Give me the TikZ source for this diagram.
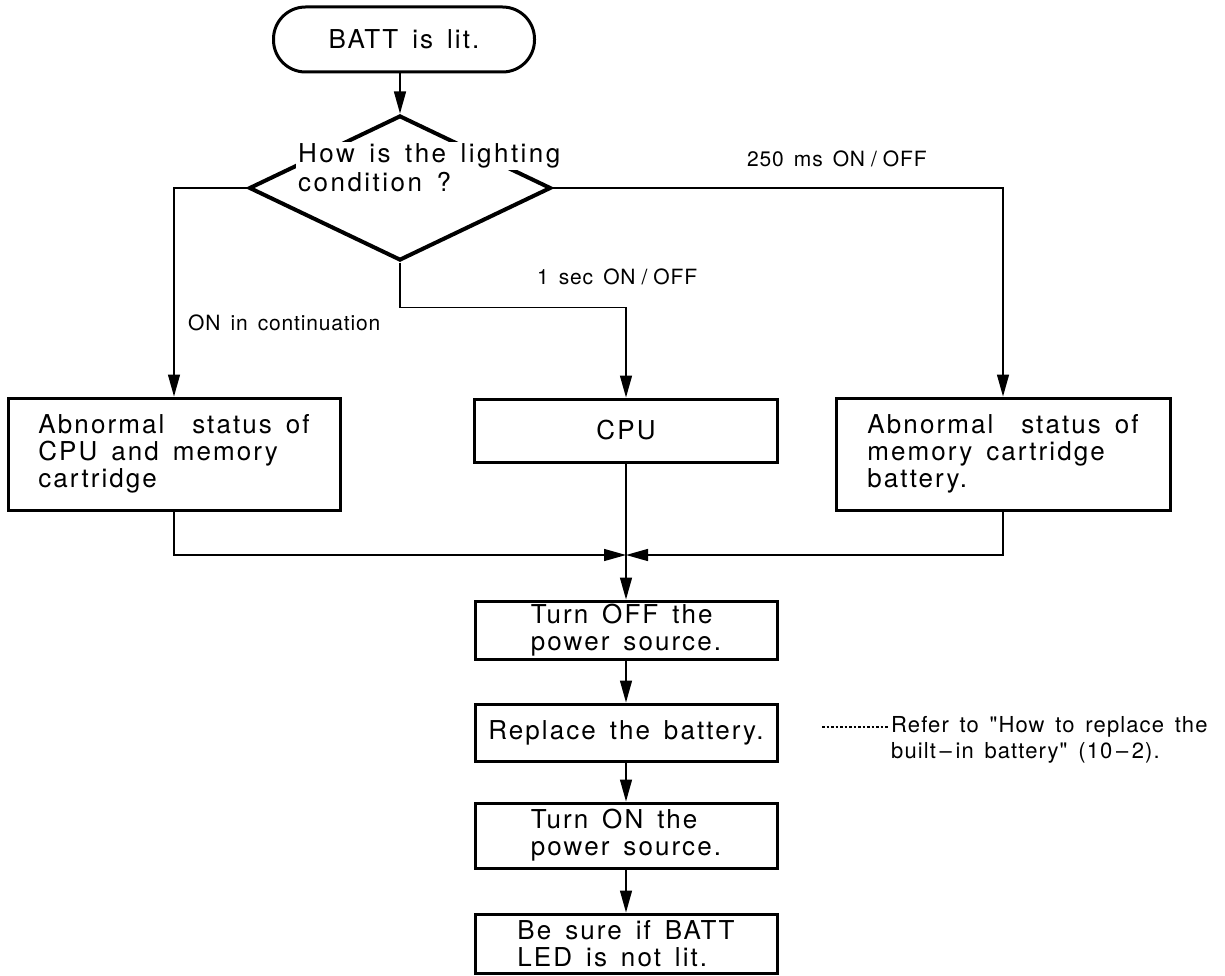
\documentclass[tikz,border=0pt]{standalone}
\usepackage{fontspec}
\setmainfont{TeX Gyre Heros}
\newfontfamily\boxfont{TeX Gyre Heros}[LetterSpace=8,WordSpace=1.5]
\newfontfamily\qfont{TeX Gyre Heros}[LetterSpace=9.5,WordSpace=1.5]
\newfontfamily\lblfont{TeX Gyre Heros}[LetterSpace=4,WordSpace=1.5]
\newfontfamily\notefont{TeX Gyre Heros}[LetterSpace=5,WordSpace=1.5]
\newcommand{\onoff}{ON\kern6pt/\kern6pt OFF}
\usetikzlibrary{arrows.meta,shapes.geometric}
\begin{document}
\begin{tikzpicture}[x=1pt,y=-1pt,
  box/.style={draw,line width=3pt,rectangle,inner sep=0pt,align=left,font=\boxfont\fontsize{26}{27}\selectfont},
  conn/.style={line width=1.4pt},
  arr/.style={conn,-{Triangle[length=22pt,width=12pt]}},
  lbl/.style={inner sep=0pt,font=\lblfont\fontsize{21}{25}\selectfont,align=left},
  dtext/.style={fill=white,inner sep=2pt,font=\qfont\fontsize{26}{27}\selectfont},
  leader/.style={line width=1.2pt,dash pattern=on 2.5pt off 2pt}
]
\useasboundingbox (0,0) rectangle (1225,976);
% start terminal
\node[box,rounded corners=32pt,minimum width=261pt,minimum height=65pt] (start) at (404,39.5) {BATT is lit.};
% decision
\node[draw,diamond,line width=4pt,inner sep=0pt,minimum width=302pt,minimum height=145pt] (dec) at (400,188) {};
\node[dtext,anchor=base west] (q1) at (296,162.5) {How is the lighting};
\node[dtext,anchor=base west] (q2) at (296,191.5) {condition ?};
% boxes
\node[box,minimum width=332pt,minimum height=112pt] (b1) at (174,454) {Abnormal\ \ status of\\CPU and memory\\cartridge};
\node[box,minimum width=303pt,minimum height=63pt] (b2) at (626,430.5) {CPU};
\node[box,minimum width=334pt,minimum height=112pt] (b3) at (1003,454) {Abnormal\ \ status of\\memory cartridge\\battery.};
\node[box,minimum width=302pt,minimum height=58pt] (s1) at (626,630) {Turn OFF the\\power source.};
\node[box,minimum width=302pt,minimum height=57pt] (s2) at (626,732.5) {Replace the battery.};
\node[box,minimum width=302pt,minimum height=65pt] (s3) at (626,835.5) {Turn ON the\\power source.};
\node[box,minimum width=302pt,minimum height=59pt] (s4) at (626,943.5) {Be sure if BATT\\LED is not lit.};
% labels
\node[lbl,anchor=west] (l250) at (747,159) {250 ms \onoff};
\node[lbl,anchor=west] (l1) at (537,277) {1 sec \onoff};
\node[lbl,anchor=west] (lc) at (188,323) {ON in continuation};
\node[lbl,anchor=west,inner sep=3pt,font=\notefont\fontsize{22}{26}\selectfont] (note) at (888,740) {Refer to "How to replace the\\built\,–\,in battery" (10\,–\,2).};
% connectors
\coordinate (J) at (626,555);
\coordinate (d0) at (822,727);
\draw[arr] (start.south -| dec.north) -- (dec.north);
\draw[arr] (dec.west) -| (b1.north);
\draw[arr] (dec.east) -| (b3.north);
\draw[arr] (dec.south) -- ++(0,45) -| (b2.north);
\draw[arr] (b1.south) |- (J);
\draw[arr] (b3.south) |- (J);
\draw[arr] (b2.south) -- (s1.north);
\draw[arr] (s1.south) -- (s2.north);
\draw[arr] (s2.south) -- (s3.north);
\draw[arr] (s3.south) -- (s4.north);
\draw[leader] (d0) -- (d0 -| note.west);
\end{tikzpicture}
\end{document}
